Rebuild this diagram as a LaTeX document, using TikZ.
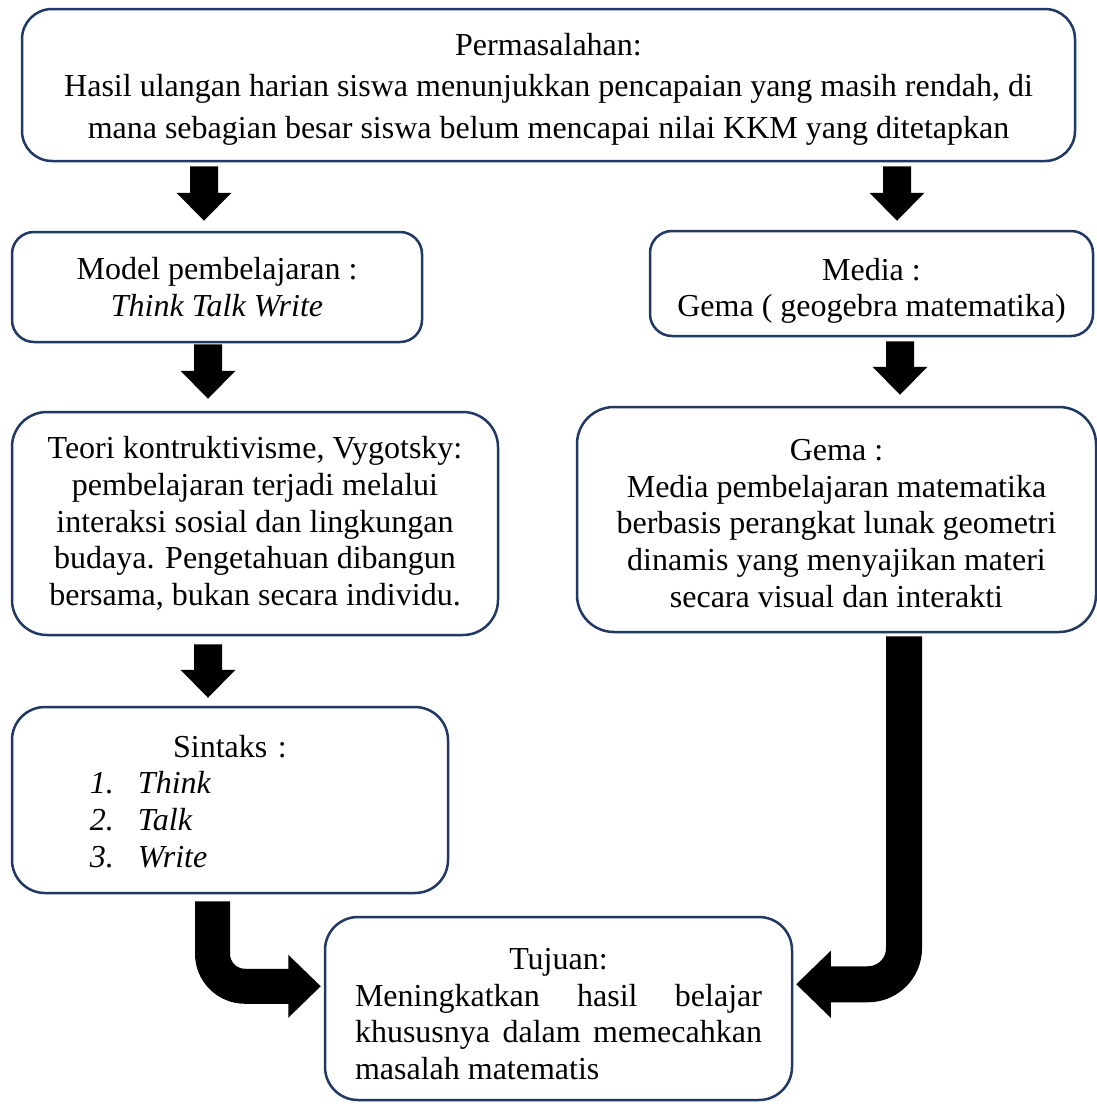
\documentclass[tikz,border=0pt]{standalone}
\usepackage{fontspec}
\setmainfont{Liberation Serif}
\usetikzlibrary{calc}
\definecolor{boxline}{HTML}{1F3864}
\newcommand\bodyfont{\fontsize{32pt}{36.6pt}\selectfont}
\tikzset{
  box/.style={draw=boxline, line width=2.5pt, rounded corners=30pt, inner sep=0pt,
              align=center, font=\bodyfont, fill=white},
  blockfill/.style={fill=black},
  bentshaft/.style={draw=black, line width=#1, line cap=butt}
}
% straight block arrow: x, from node, to node, top gap, bottom gap
\newcommand\blockdown[5]{%
  \fill[blockfill] let \p1=(#2.south), \p2=(#3.north) in
   ({#1pt-14pt},{\y1-#4pt}) -- ({#1pt+14pt},{\y1-#4pt})
   -- ({#1pt+14pt},{\y2+#5pt+28pt}) -- ({#1pt+27.5pt},{\y2+#5pt+28pt})
   -- ({#1pt},{\y2+#5pt}) -- ({#1pt-27.5pt},{\y2+#5pt+28pt})
   -- ({#1pt-14pt},{\y2+#5pt+28pt}) -- cycle;}
\begin{document}
\begin{tikzpicture}[x=1pt,y=-1pt]
\useasboundingbox (0,0) rectangle (1097,1104);
\fill[white] (0,0) rectangle (1097,1104);

\node[box, minimum width=1053pt, minimum height=152pt,
      font=\fontsize{32pt}{41.5pt}\selectfont] (perm) at (548.5,85)
  {\rule{0pt}{30pt}Permasalahan:\\Hasil ulangan harian siswa menunjukkan pencapaian yang masih rendah, di\\mana sebagian besar siswa belum mencapai nilai KKM yang ditetapkan};

\node[box, rounded corners=22pt, minimum width=410pt, minimum height=110pt] (model) at (217,287)
  {Model pembelajaran :\\\textit{Think Talk Write}};

\node[box, rounded corners=22pt, minimum width=443pt, minimum height=105pt] (media) at (871.5,283.5)
  {\rule{0pt}{37pt}Media :\\Gema ( geogebra matematika)};

\node[box, rounded corners=35pt, minimum width=486pt, minimum height=223pt] (teori) at (255,523.5)
  {Teori kontruktivisme, Vygotsky:\\pembelajaran terjadi melalui\\interaksi sosial dan lingkungan\\budaya. Pengetahuan dibangun\\bersama, bukan secara individu.};

\node[box, rounded corners=37pt, minimum width=519pt, minimum height=225pt] (gema) at (836.5,519.5)
  {\rule{0pt}{29pt}Gema :\\Media pembelajaran matematika\\berbasis perangkat lunak geometri\\dinamis yang menyajikan materi\\secara visual dan interakti};

\node[box, rounded corners=33pt, minimum width=436pt, minimum height=186pt,
      align=left, text width=400pt] (sintaks) at (230,800)
  {\makebox[400pt]{\rule{0pt}{25pt}Sintaks :}\\
   \hspace*{60pt}\makebox[48pt][l]{\textit{1.}}\textit{Think}\\
   \hspace*{60pt}\makebox[48pt][l]{\textit{2.}}\textit{Talk}\\
   \hspace*{60pt}\makebox[48pt][l]{\textit{3.}}\textit{Write}};

\node[box, rounded corners=33pt, minimum width=467pt, minimum height=183pt,
      align=justify, text width=407pt] (tujuan) at (558.5,1008.5)
  {\makebox[\linewidth]{\rule{0pt}{32pt}Tujuan:}\newline
   Meningkatkan hasil belajar\linebreak khususnya dalam memecahkan\linebreak masalah matematis};

% straight block arrows
\blockdown{204}{perm}{model}{4}{10}
\blockdown{897}{perm}{media}{4}{9}
\blockdown{208}{model}{teori}{1}{12}
\blockdown{900}{media}{gema}{4}{11}
\blockdown{208}{teori}{sintaks}{8}{8}

% bent arrow from Gema to Tujuan
\draw[bentshaft=36pt, rounded corners=36pt] let \p1=(gema.south), \p2=(tujuan.north east) in
  (904pt,{\y1-3pt}) -- (904pt,{\y2-68.5pt}) -- ({\x2+37pt},{\y2-68.5pt});
\fill[blockfill] let \p2=(tujuan.north east) in
  ({\x2+3pt},{\y2-68.5pt}) -- ({\x2+37.5pt},{\y2-68.5pt+33.5pt}) -- ({\x2+37.5pt},{\y2-68.5pt-33.5pt}) -- cycle;

% bent arrow from Sintaks to Tujuan
\draw[bentshaft=35pt, rounded corners=32.5pt] let \p1=(sintaks.south), \p2=(tujuan.north west) in
  (212.5pt,{\y1-7pt}) -- (212.5pt,{\y2-70.5pt}) -- ({\x2-35pt},{\y2-70.5pt});
\fill[blockfill] let \p2=(tujuan.north west) in
  ({\x2-3pt},{\y2-70.5pt}) -- ({\x2-35.5pt},{\y2-70.5pt+31.5pt}) -- ({\x2-35.5pt},{\y2-70.5pt-31.5pt}) -- cycle;
\end{tikzpicture}
\end{document}
